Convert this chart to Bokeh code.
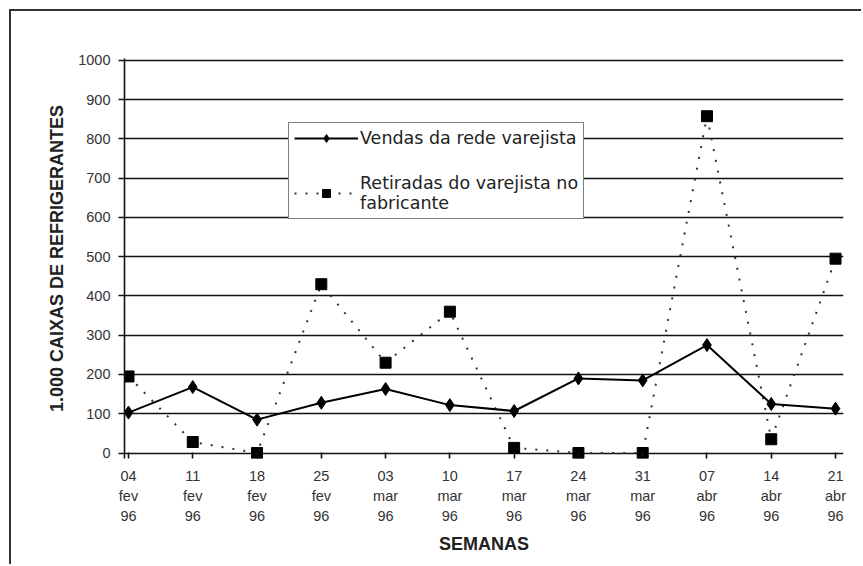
from bokeh.plotting import figure
from bokeh.models import Range1d, FixedTicker, Legend, LegendItem
from bokeh.embed import file_html
from bokeh.resources import INLINE

# Weekly data (thousand cases of soft drinks)
dias = ["04", "11", "18", "25", "03", "10", "17", "24", "31", "07", "14", "21"]
meses = ["fev"] * 4 + ["mar"] * 5 + ["abr"] * 3
anos = ["96"] * 12
vendas = [103, 168, 85, 128, 163, 122, 107, 190, 185, 275, 125, 113]
retiradas = [195, 28, 0, 430, 230, 360, 13, 0, 0, 858, 35, 495]
y_ticks = list(range(0, 1001, 100))

x = list(range(len(dias)))
x_labels = {i: f"{d}\n{m}\n{a}" for i, (d, m, a) in enumerate(zip(dias, meses, anos))}

# the figure sits inside a page frame drawn with CSS borders (11px offset)
OFF = 11
p = figure(width=863 - OFF, height=566 - OFF, output_backend="svg", toolbar_location=None,
           x_range=Range1d(-0.062, 11.124), y_range=Range1d(-14, 1005),
           min_border_left=124 - OFF, min_border_right=20,
           min_border_top=58 - OFF, min_border_bottom=108)
p.styles = {"margin-left": "9px", "margin-top": "9px",
            "border-left": "2px solid #333333", "border-top": "2px solid #333333"}
p.outline_line_color = None
p.background_fill_color = "white"
p.border_fill_color = "white"

# horizontal grid every 100 (the line at 0 is the baseline)
p.xgrid.visible = False
p.ygrid.ticker = FixedTicker(ticks=y_ticks)
p.ygrid.grid_line_color = "#111111"
p.ygrid.grid_line_width = 1.6

# y axis
yax = p.yaxis[0]
yax.ticker = FixedTicker(ticks=y_ticks)
yax.axis_label = "1.000 CAIXAS DE REFRIGERANTES"
yax.axis_label_text_font = "Liberation Sans"
yax.axis_label_text_font_style = "bold"
yax.axis_label_text_font_size = "18px"
yax.axis_label_text_color = "#222222"
yax.axis_label_standoff = 8
yax.major_label_text_font = "Liberation Sans"
yax.major_label_text_font_size = "14.5px"
yax.major_label_text_color = "#333333"
yax.major_label_standoff = 8
yax.major_tick_out = 6
yax.major_tick_in = 0
yax.minor_tick_out = 0
yax.minor_tick_in = 0
yax.axis_line_color = "#111111"
yax.axis_line_width = 1.6
yax.major_tick_line_color = "#111111"
yax.major_tick_line_width = 1.6

# x axis: ticks rise from the frame edge up to the zero line
xax = p.xaxis[0]
xax.ticker = FixedTicker(ticks=x)
xax.major_label_overrides = x_labels
xax.axis_label = "SEMANAS"
xax.axis_label_text_font = "Liberation Sans"
xax.axis_label_text_font_style = "bold"
xax.axis_label_text_font_size = "18px"
xax.axis_label_text_color = "#222222"
xax.axis_label_standoff = 7
xax.major_label_text_font = "Liberation Sans"
xax.major_label_text_font_size = "14.5px"
xax.major_label_text_color = "#333333"
xax.major_label_text_line_height = 1.27
xax.major_label_standoff = 9
xax.major_tick_out = 0
xax.major_tick_in = 6
xax.minor_tick_out = 0
xax.minor_tick_in = 0
xax.axis_line_color = None
xax.major_tick_line_color = "#111111"
xax.major_tick_line_width = 1.6

# series
l_ret = p.line(x, retiradas, line_color="#333333", line_width=2, line_dash="2 9")
s_ret = p.scatter(x, retiradas, marker="square", size=11, fill_color="black",
                  line_color="black")
l_ven = p.line(x, vendas, line_color="black", line_width=2)
s_ven = p.scatter(x, vendas, marker="diamond", size=13,
                  fill_color="black", line_color="black")

legend = Legend(items=[
    LegendItem(label="Vendas da rede varejista", renderers=[l_ven, s_ven]),
    LegendItem(label="Retiradas do varejista no\nfabricante", renderers=[l_ret, s_ret]),
], location=(164, 239))
legend.border_line_color = "black"
legend.border_line_width = 1.5
legend.background_fill_color = "white"
legend.background_fill_alpha = 1.0
legend.padding = 5
legend.spacing = 25
legend.margin = 0
legend.glyph_width = 64
legend.glyph_height = 20
legend.label_standoff = 2
legend.label_text_font = "DejaVu Sans"
legend.label_text_font_size = "17.5px"
legend.label_text_color = "#222222"
p.add_layout(legend, "center")

open("out.html", "w").write(file_html(p, INLINE))
